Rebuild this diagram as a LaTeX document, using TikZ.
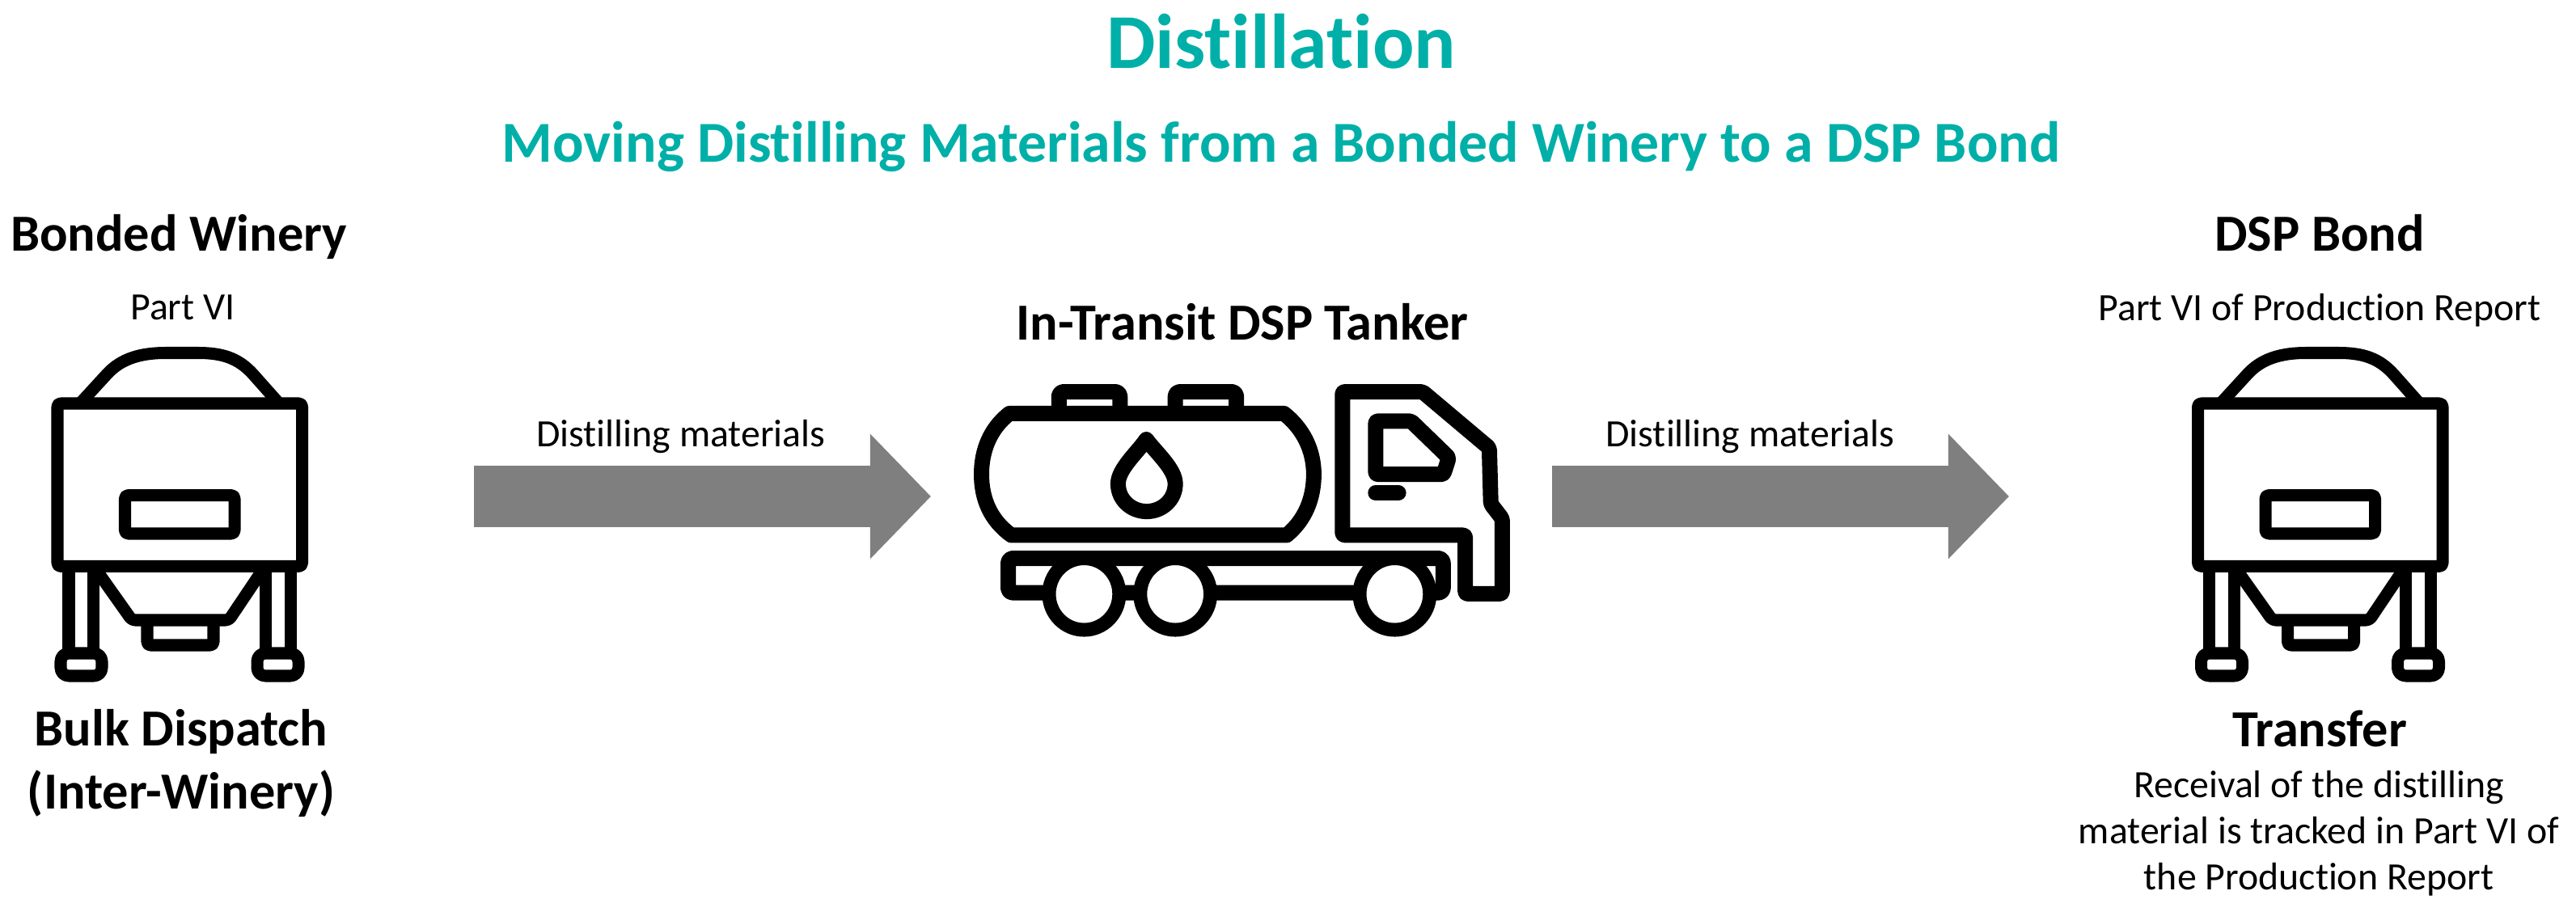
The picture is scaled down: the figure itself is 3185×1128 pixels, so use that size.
\documentclass[tikz,border=0pt]{standalone}
\usepackage{fontspec}
\setmainfont[Ligatures=NoCommon]{Carlito}
\usetikzlibrary{arrows.meta}
\definecolor{teal1}{HTML}{00B0A8}
\definecolor{arrowgray}{HTML}{7F7F7F}
\tikzset{
  titletext/.style={font=\fontsize{27.3}{30}\selectfont\bfseries,text=teal1,anchor=base,inner sep=0pt},
  subtext/.style={font=\fontsize{20.4}{23}\selectfont\bfseries,text=teal1,anchor=base,inner sep=0pt},
  headtext/.style={font=\fontsize{18.3}{21.9}\selectfont\bfseries,text=black,anchor=base,inner sep=0pt,align=center},
  bodytext/.style={font=\fontsize{13.6}{16.2}\selectfont,text=black,anchor=base,inner sep=0pt,align=center},
  icon/.style={draw=black,line width=0.15cm,line join=round,rounded corners=0.04cm},
  truckline/.style={draw=black,line width=0.19cm,line join=round},
  wheel/.style={draw=black,fill=white,line width=0.17cm},
  flow/.style={line width=0.755cm,draw=arrowgray,-{Triangle[length=0.75cm,width=1.5cm,sep=0pt]}}
}
\newcommand{\tankicon}[1]{%
\begin{scope}[xshift=#1*0.01cm]
  \draw[icon,rounded corners=0pt] (99,499) -- (132,463) .. controls (150,443) and (175,436.5) .. (205,436.5) -- (245,436.5) .. controls (275,436.5) and (295,443) .. (313,463) -- (345,499);
  \draw[icon] (85,700) -- (85,808) (115.5,700) -- (115.5,808);
  \draw[icon] (328,700) -- (328,808) (359,700) -- (359,808);
  \draw[icon,rounded corners=0.1cm] (75,836) rectangle (126,808);
  \draw[icon,rounded corners=0.1cm] (318,836) rectangle (369,808);
  \draw[icon] (115.6,700) -- (163,767) -- (283,767) -- (328,700);
  \draw[icon] (182,767) -- (182,798) -- (264,798) -- (264,767);
  \draw[icon] (71,499) rectangle (373.5,700.4);
  \draw[icon] (154.5,612.6) rectangle (290,660);
\end{scope}}
\begin{document}
\begin{tikzpicture}[x=0.01cm,y=-0.01cm]
\useasboundingbox[fill=white] (0,0) rectangle (3185,1128);
\node[titletext] (title) at (1584,85) {Distillation};
\node[subtext] (subtitle) at (1584,201) {Moving Distilling Materials from a Bonded Winery to a DSP Bond};
\node[headtext] (wineryhead) at (221,311) {Bonded Winery};
\node[bodytext] (winerypart) at (226,396) {Part VI};
\node[headtext] (tankerhead) at (1536,421) {In-Transit DSP Tanker};
\node[bodytext] (mat1) at (842,553) {Distilling materials};
\node[bodytext] (mat2) at (2164,553) {Distilling materials};
\node[headtext] (dsphead) at (2868,311) {DSP Bond};
\node[bodytext] (dsppart) at (2868,397) {Part VI of Production Report};
\node[headtext] (dispatch) at (224,1000) {Bulk Dispatch\\(Inter-Winery)};
\node[headtext] (transfer) at (2868,923) {Transfer};
\node[bodytext] (receival) at (2867,1100) {Receival of the distilling\\material is tracked in Part VI of\\the Production Report};
\tankicon{0}
\tankicon{2646.5}
\coordinate (a1s) at (586,614);
\coordinate (a1e) at (1151,614);
\coordinate (a2s) at (1919,614);
\coordinate (a2e) at (2484,614);
\draw[flow] (a1s) -- (a1e);
\draw[flow] (a2s) -- (a2e);
\begin{scope}[shift={(11.6cm,-4.4cm)},x=0.004719cm,y=-0.003333cm]
  \draw[truckline,rounded corners=0.06cm] (315,214) -- (315,133) -- (475,133) -- (475,214);
  \draw[truckline,rounded corners=0.06cm] (620,214) -- (620,133) -- (780,133) -- (780,214);
  \draw[truckline] (185,214) -- (905,214) .. controls (955,270) and (983,350) .. (983,440) .. controls (983,530) and (960,610) .. (912,666) -- (190,666) .. controls (135,610) and (112,530) .. (112,440) .. controls (112,350) and (135,270) .. (185,214) -- cycle;
  \draw[truckline] (544,310) .. controls (520,360) and (470,420) .. (470,475) .. controls (470,535) and (505,578) .. (545,578) .. controls (585,578) and (620,535) .. (620,475) .. controls (620,420) and (570,360) .. (544,310) -- cycle;
  \draw[truckline,rounded corners=0.03cm] (1058,133) -- (1268,133) -- (1443,342) -- (1447,550) -- (1477,605) -- (1477,884) -- (1380,884) -- (1380,666) -- (1058,666) -- cycle;
  \draw[truckline,rounded corners=0.03cm] (1145,242) -- (1238,242) -- (1337,378) -- (1323,440) -- (1145,440) -- cycle;
  \draw[truckline,line cap=round] (1145,509) -- (1205,509);
  \draw[truckline,rounded corners=0.06cm] (182,752) rectangle (1322,880);
  \draw[wheel] (381,885) ellipse [x radius=92,y radius=133];
  \draw[wheel] (620,885) ellipse [x radius=92,y radius=133];
  \draw[wheel] (1195,885) ellipse [x radius=92,y radius=133];
\end{scope}
\end{tikzpicture}
\end{document}
